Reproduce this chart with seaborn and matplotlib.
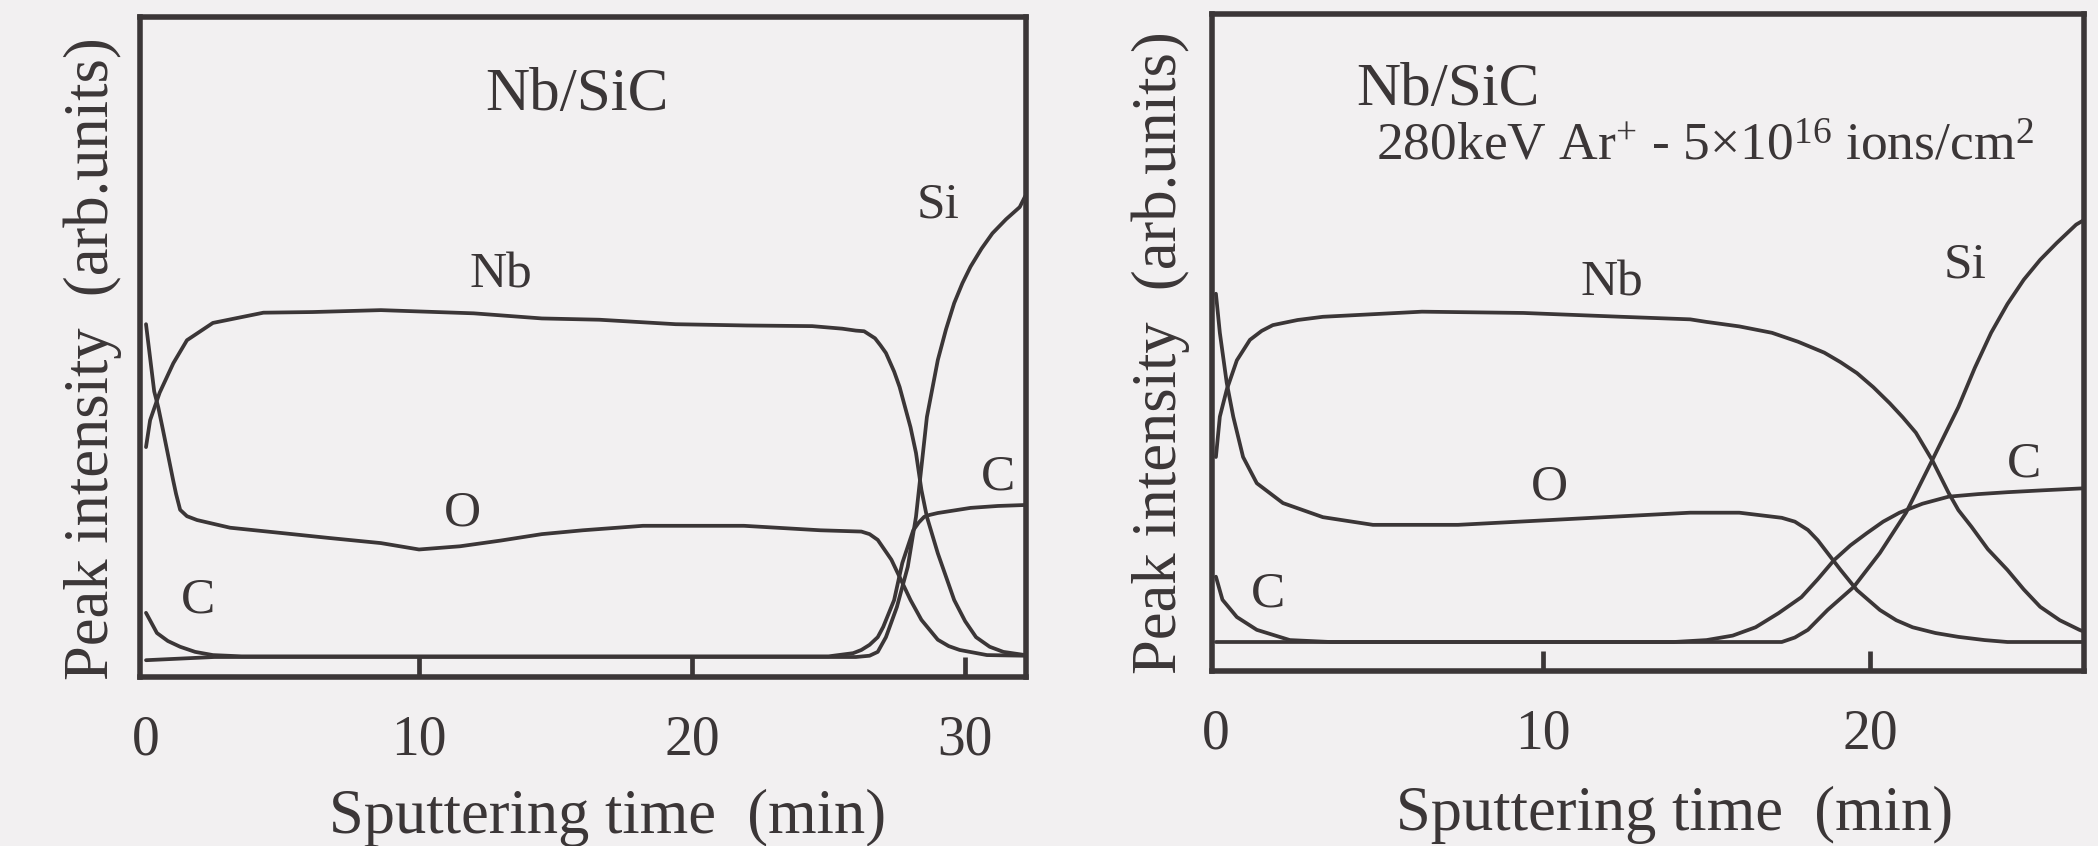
import numpy as np
import pandas as pd
import matplotlib
matplotlib.use("Agg")
import matplotlib.pyplot as plt
import seaborn as sns

# ---------------- data: Auger depth profiles, Nb film on SiC ----------------
# as-deposited sample
t_nb_a = [0, 0.15, 0.5, 1.0, 1.5, 2.45, 4.3, 6.1, 8.6, 12.0, 14.5, 16.6, 19.4, 22.0, 24.4,
          25.5, 26.0, 26.3, 26.7, 26.9, 27.1, 27.4, 27.6, 28.0, 28.2, 28.4, 28.6, 29.0,
          29.6, 30.0, 30.4, 30.9, 31.4, 32.2]
v_nb_a = [32.8, 37.0, 41.3, 45.9, 49.5, 52.2, 53.8, 53.9, 54.2, 53.7, 52.9, 52.7, 52.0, 51.8, 51.7,
          51.3, 51.0, 50.9, 49.8, 48.7, 47.5, 44.6, 42.2, 35.9, 31.9, 26.1, 21.9, 16.2,
          8.9, 5.6, 3.1, 1.6, 0.8, 0.3]

t_o_a = [0, 0.3, 0.45, 0.62, 0.99, 1.1, 1.25, 1.5, 1.87, 3.08, 4.9, 6.7, 8.6, 10.0, 11.5, 13.0, 14.5,
         16.0, 18.2, 21.9, 24.7, 26.2, 26.5, 26.8, 27.3, 27.6, 28.0, 28.4, 29.0, 29.4, 29.8, 30.8, 32.2]
v_o_a = [52.0, 41.5, 39.0, 35.5, 27.7, 25.5, 23.0, 22.0, 21.4, 20.2, 19.4, 18.6, 17.8, 16.8, 17.3, 18.2,
         19.2, 19.8, 20.5, 20.5, 19.8, 19.6, 19.2, 18.3, 15.2, 12.5, 8.9, 5.8, 2.7, 1.7, 1.1, 0.3, 0.2]

t_c_a = [0, 0.4, 0.8, 1.25, 1.8, 2.45, 3.5, 25.0, 25.9, 26.2, 26.5, 26.8, 27.0, 27.4, 27.7, 28.1,
         28.3, 28.5, 28.7, 29.0, 30.2, 31.2, 32.2]
v_c_a = [6.9, 3.75, 2.5, 1.6, 0.8, 0.3, 0.1, 0.1, 0.6, 1.1, 1.9, 3.1, 4.7, 8.9, 14.7, 19.8,
         21.0, 21.9, 22.2, 22.5, 23.3, 23.6, 23.75]

t_si_a = [0, 2.5, 26.0, 26.5, 26.8, 27.1, 27.5, 27.9, 28.2, 28.4, 28.6, 29.0, 29.3, 29.6, 29.9,
          30.2, 30.6, 31.0, 31.5, 32.0, 32.2]
v_si_a = [-0.5, 0.0, 0.0, 0.2, 0.8, 3.1, 7.8, 14.1, 21.9, 29.7, 37.5, 46.4, 51.2, 55.3, 58.4,
          61.0, 63.8, 66.2, 68.4, 70.3, 72.0]

# after 280 keV Ar+ implantation, 5e16 ions/cm2
t_nb_b = [0, 0.12, 0.33, 0.64, 1.04, 1.4, 1.74, 2.5, 3.27, 6.3, 9.4, 12.4, 14.5, 15.0, 16.0, 17.0,
          17.8, 18.6, 19.1, 19.6, 20.1, 20.6, 21.0, 21.4, 21.9, 22.4, 22.7, 23.1, 23.6, 24.2,
          24.7, 25.2, 25.8, 26.4, 26.5]
v_nb_b = [28.9, 35.2, 39.4, 44.0, 47.2, 48.6, 49.5, 50.3, 50.8, 51.6, 51.4, 50.8, 50.4, 50.0, 49.3, 48.3,
          46.9, 45.2, 43.7, 42.0, 39.8, 37.3, 35.1, 32.7, 28.4, 23.3, 20.6, 18.0, 14.5, 11.25,
          8.2, 5.5, 3.4, 1.9, 1.7]

t_o_b = [0, 0.12, 0.33, 0.53, 0.83, 1.25, 2.05, 3.27, 4.8, 7.4, 10.4, 13.0, 14.5, 16.0, 17.3,
         17.7, 18.1, 18.4, 18.7, 19.1, 19.6, 20.3, 20.8, 21.3, 22.0, 22.7, 23.5, 24.2, 26.5]
v_o_b = [54.4, 48.3, 40.5, 35.2, 28.9, 24.8, 21.7, 19.5, 18.3, 18.3, 19.1, 19.8, 20.2, 20.2, 19.4,
         18.8, 17.5, 15.9, 13.9, 11.25, 8.1, 5.0, 3.4, 2.3, 1.4, 0.8, 0.3, 0.0, 0.0]

t_c_b = [0, 0.2, 0.64, 1.25, 2.26, 3.5, 14.0, 15.0, 15.8, 16.5, 17.2, 17.9, 18.4, 18.9, 19.4,
         19.9, 20.4, 20.9, 21.6, 22.4, 23.3, 24.2, 25.3, 26.5]
v_c_b = [10.2, 6.6, 3.9, 1.9, 0.3, 0.0, 0.0, 0.3, 1.0, 2.3, 4.5, 7.0, 9.8, 12.8, 15.1,
         17.0, 18.8, 20.2, 21.6, 22.7, 23.1, 23.4, 23.7, 24.0]

t_si_b = [0, 17.3, 17.7, 18.1, 18.7, 19.1, 19.5, 20.3, 21.1, 21.9, 22.7, 23.2, 23.7, 24.2, 24.7,
          25.2, 25.7, 26.3, 26.5]
v_si_b = [0.0, 0.0, 0.7, 1.9, 5.0, 6.8, 8.6, 13.9, 20.2, 28.4, 36.7, 42.8, 48.3, 52.8, 56.6,
          59.7, 62.3, 65.2, 65.8]

x_ticks_a = [0, 10, 20, 30]
x_ticks_b = [0, 10, 20]
title_text = "Nb/SiC"
implant_text = "280keV Ar$^{+}$ - 5×10$^{16}$ ions/cm$^{2}$"
x_label = "Sputtering time  (min)"
y_label = "Peak intensity  (arb.units)"

# ---------------- styling ----------------
PAPER = "#f2f0f1"
INK = "#3b3637"

sns.set_theme(style="white")
plt.rcParams.update({
    "font.family": ["Liberation Serif", "DejaVu Serif"],
    "mathtext.fontset": "custom",
    "mathtext.rm": "Liberation Serif",
    "mathtext.it": "Liberation Serif:italic",
    "mathtext.bf": "Liberation Serif:bold",
    "text.color": INK,
    "axes.edgecolor": INK,
    "xtick.color": INK,
    "axes.labelcolor": INK,
    "figure.facecolor": PAPER,
    "axes.facecolor": PAPER,
})


def long_frame(curves):
    rows = []
    for name, (t, v) in curves.items():
        rows.append(pd.DataFrame({"time": t, "intensity": v, "element": name}))
    return pd.concat(rows, ignore_index=True)


df_a = long_frame({"Nb": (t_nb_a, v_nb_a), "O": (t_o_a, v_o_a),
                   "C": (t_c_a, v_c_a), "Si": (t_si_a, v_si_a)})
df_b = long_frame({"Nb": (t_nb_b, v_nb_b), "O": (t_o_b, v_o_b),
                   "C": (t_c_b, v_c_b), "Si": (t_si_b, v_si_b)})

fig = plt.figure(figsize=(20.98, 8.46), dpi=100)
ax_a = fig.add_axes([0.06673, 0.19976, 0.42231, 0.78014])
ax_b = fig.add_axes([0.57769, 0.20686, 0.41563, 0.77660])

panels = [
    (ax_a, df_a, x_ticks_a, (-0.22, 32.23), (-3.125, 100.0)),
    (ax_b, df_b, x_ticks_b, (-0.12, 26.54), (-4.53, 98.1)),
]

for ax, df, ticks, xl, yl in panels:
    sns.lineplot(data=df, x="time", y="intensity", units="element", estimator=None,
                 sort=False, color=INK, lw=2.7, ax=ax, legend=False)
    for ln in ax.get_lines():
        ln.set_solid_joinstyle("round")
        ln.set_solid_capstyle("round")
    ax.set_xlim(*xl)
    ax.set_ylim(*yl)
    ax.set_xticks(ticks)
    ax.set_xticklabels([str(t) for t in ticks])
    ax.set_yticks([])
    ax.tick_params(axis="x", direction="in", length=14.5, width=3.4, pad=27,
                   labelsize=40, colors=INK, bottom=True, top=False)
    ax.xaxis.get_major_ticks()[0].tick1line.set_visible(False)
    for sp in ax.spines.values():
        sp.set_visible(True)
        sp.set_linewidth(4.0)
        sp.set_color(INK)
    ax.set_xlabel(x_label, fontsize=45)
    ax.set_ylabel(y_label, fontsize=45)
    ax.xaxis.label.set_verticalalignment("baseline")
    ax.yaxis.label.set_verticalalignment("baseline")

ax_a.xaxis.set_label_coords(0.528, -0.236)
ax_a.yaxis.set_label_coords(-0.036, 0.482)
ax_b.xaxis.set_label_coords(0.531, -0.242)
ax_b.yaxis.set_label_coords(-0.041, 0.484)

# curve and sample labels
ax_a.text(15.8, 85.5, title_text, fontsize=44, ha="center", va="baseline")
for txt, x, y in [("Nb", 13.0, 57.8), ("O", 11.6, 20.5), ("C", 1.9, 6.9),
                  ("Si", 29.0, 68.6), ("C", 31.2, 26.1)]:
    ax_a.text(x, y, txt, fontsize=37, ha="center", va="baseline")

ax_b.text(4.28, 83.9, title_text, fontsize=44, ha="left", va="baseline")
ax_b.text(4.9, 75.3, implant_text, fontsize=38.5, ha="left", va="baseline")
for txt, x, y in [("Nb", 12.1, 54.2), ("O", 10.2, 22.2), ("C", 1.6, 5.5),
                  ("Si", 22.9, 56.9), ("C", 24.7, 25.8)]:
    ax_b.text(x, y, txt, fontsize=37, ha="center", va="baseline")

fig.savefig("out.png", dpi=100, facecolor=PAPER)
